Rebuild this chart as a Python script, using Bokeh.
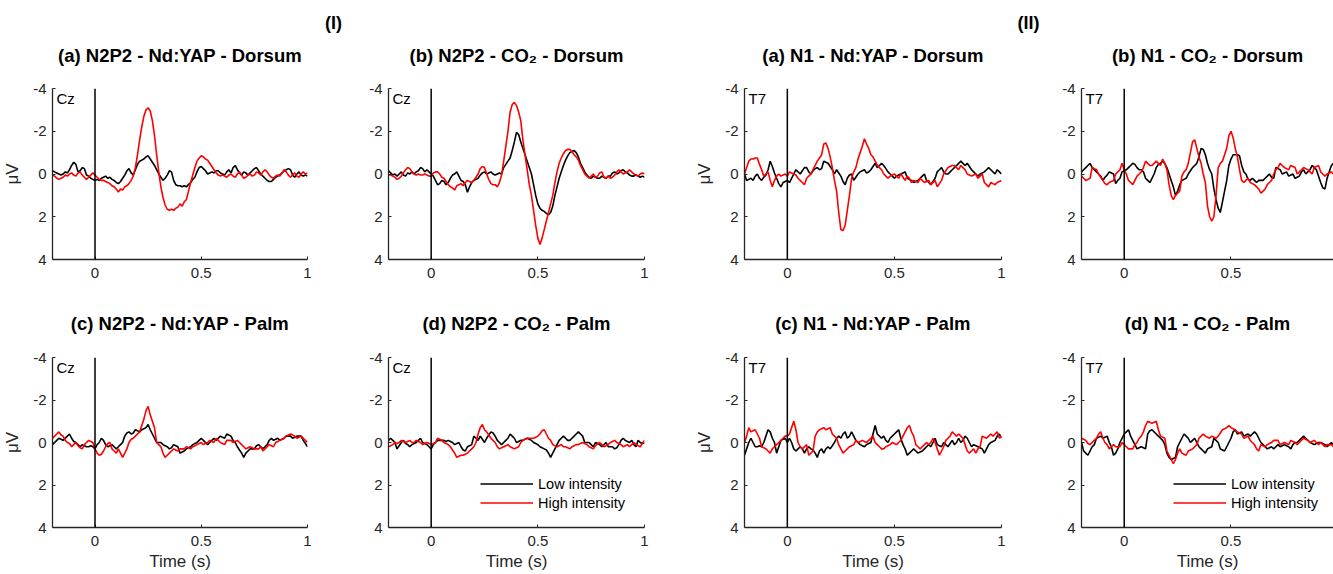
import numpy as np
from bokeh.plotting import figure
from bokeh.layouts import column, row
from bokeh.models import (Range1d, FixedTicker, CustomJSTickFormatter, Span, Label,
                          Legend, LegendItem)
from bokeh.embed import file_html
from bokeh.resources import INLINE

FONT = "Liberation Sans"
T_START = -0.2
T_STEP = 0.01

group_titles = ["(I)", "(II)"]
panel_titles = ["(a) N2P2 - Nd:YAP - Dorsum", "(b) N2P2 - CO\u2082 - Dorsum",
                "(a) N1 - Nd:YAP - Dorsum", "(b) N1 - CO\u2082 - Dorsum",
                "(c) N2P2 - Nd:YAP - Palm", "(d) N2P2 - CO\u2082 - Palm",
                "(c) N1 - Nd:YAP - Palm", "(d) N1 - CO\u2082 - Palm"]
electrodes = ["Cz", "Cz", "T7", "T7", "Cz", "Cz", "T7", "T7"]
series_names = ["Low intensity", "High intensity"]
x_ticks = [0, 0.5, 1]
y_ticks = [-4, -2, 0, 2, 4]

# amplitudes in microvolts, sampled every 10 ms from -0.2 s to 1.0 s
n2p2_ndyap_dorsum_low = [
    -0.15, -0.10, -0.05, 0.00, 0.05, 0.00, -0.10, -0.05, -0.20, -0.40,
    -0.55, -0.45, -0.10, -0.15, -0.30, -0.25, 0.05, 0.10, 0.20, 0.25,
    0.30, 0.25, 0.30, 0.20, 0.15, 0.10, 0.20, 0.15, 0.25, 0.30,
    0.40, 0.45, 0.35, 0.20, 0.05, -0.15, -0.25, -0.05, 0.05, -0.20,
    -0.45, -0.60, -0.65, -0.70, -0.80, -0.85, -0.70, -0.55, -0.40, -0.20,
    0.00, 0.15, 0.30, 0.20, 0.05, -0.15, -0.10, 0.30, 0.50, 0.55,
    0.55, 0.60, 0.55, 0.60, 0.50, 0.40, 0.25, 0.15, -0.10, -0.30,
    -0.35, -0.25, -0.15, 0.00, -0.05, -0.10, -0.05, -0.15, -0.15, -0.05,
    0.00, 0.05, -0.10, -0.20, -0.05, -0.30, -0.40, -0.20, -0.05, 0.05,
    -0.10, -0.05, 0.05, -0.05, -0.15, -0.25, -0.30, -0.15, 0.00, 0.10,
    0.20, 0.30, 0.35, 0.35, 0.25, 0.15, 0.10, 0.05, -0.05, -0.15,
    -0.20, -0.25, -0.20, 0.05, 0.15, 0.00, -0.10, 0.05, 0.10, 0.05,
    0.10]
n2p2_ndyap_dorsum_high = [
    0.05, 0.10, 0.20, 0.25, 0.20, 0.15, 0.05, 0.10, 0.00, -0.05,
    0.05, 0.10, -0.05, -0.10, 0.05, 0.15, 0.25, 0.15, 0.05, -0.05,
    0.05, 0.15, 0.25, 0.30, 0.30, 0.35, 0.40, 0.45, 0.55, 0.60,
    0.70, 0.85, 0.70, 0.75, 0.60, 0.55, 0.45, 0.30, 0.10, -0.30,
    -0.90, -1.60, -2.20, -2.70, -3.00, -3.10, -2.95, -2.50, -1.80, -0.90,
    -0.10, 0.60, 1.10, 1.45, 1.65, 1.70, 1.65, 1.70, 1.60, 1.55,
    1.40, 1.50, 1.30, 1.20, 0.80, 0.40, 0.05, -0.30, -0.60, -0.75,
    -0.85, -0.80, -0.70, -0.65, -0.50, -0.35, -0.20, -0.05, 0.05, 0.10,
    0.05, 0.10, 0.15, 0.05, 0.00, 0.10, 0.15, 0.00, -0.10, 0.05,
    0.20, 0.15, 0.05, 0.00, 0.10, 0.05, -0.10, -0.05, 0.05, -0.10,
    -0.20, -0.10, 0.05, 0.15, 0.20, 0.10, 0.05, 0.10, -0.05, -0.20,
    -0.10, 0.05, 0.15, 0.05, -0.05, 0.10, 0.15, 0.00, -0.10, 0.00,
    -0.05]
n2p2_co2_dorsum_low = [
    -0.15, -0.05, 0.05, 0.00, 0.10, 0.00, -0.10, 0.05, 0.10, -0.05,
    0.00, -0.10, 0.00, -0.10, -0.15, -0.30, -0.25, -0.10, -0.20, -0.10,
    0.00, 0.10, 0.30, 0.50, 0.45, 0.30, 0.35, 0.50, 0.40, 0.20,
    0.05, 0.00, -0.10, 0.10, 0.30, 0.35, 0.50, 0.85, 0.60, 0.40,
    0.30, 0.25, 0.20, 0.05, -0.05, -0.10, 0.00, -0.05, -0.10, 0.00,
    0.05, 0.00, -0.05, 0.00, -0.30, -0.45, -0.60, -0.75, -1.10, -1.50,
    -1.95, -1.85, -1.50, -1.20, -0.90, -0.60, -0.30, 0.00, 0.50, 1.00,
    1.40, 1.60, 1.70, 1.75, 1.85, 1.90, 1.80, 1.50, 1.00, 0.60,
    0.20, -0.10, -0.40, -0.65, -0.85, -1.00, -1.05, -1.10, -1.00, -0.80,
    -0.50, -0.30, -0.10, 0.05, 0.15, 0.20, 0.10, 0.15, 0.20, 0.20,
    0.10, 0.15, 0.20, 0.10, 0.10, -0.05, -0.10, 0.00, -0.05, -0.15,
    -0.20, -0.10, -0.05, 0.05, 0.10, 0.10, 0.05, 0.10, 0.15, 0.10,
    0.15]
n2p2_co2_dorsum_high = [
    0.05, 0.05, 0.10, 0.15, 0.25, 0.20, 0.10, -0.05, -0.20, -0.30,
    -0.25, -0.10, 0.00, 0.05, 0.00, 0.05, 0.05, 0.00, 0.05, 0.10,
    0.10, -0.05, -0.10, -0.10, 0.00, 0.15, 0.20, 0.35, 0.50, 0.60,
    0.65, 0.75, 0.55, 0.50, 0.45, 0.55, 0.40, 0.30, 0.35, 0.40,
    0.30, 0.15, 0.00, -0.25, -0.35, -0.30, 0.00, 0.25, 0.45, 0.50,
    0.50, 0.60, 0.40, 0.05, -0.60, -1.30, -2.00, -2.90, -3.25, -3.35,
    -3.20, -2.90, -2.50, -1.60, -0.90, -0.20, 0.50, 1.00, 1.70, 2.40,
    3.00, 3.30, 3.00, 2.60, 2.20, 1.80, 1.40, 1.00, 0.40, -0.10,
    -0.50, -0.75, -0.95, -1.10, -1.15, -1.15, -1.05, -0.90, -0.80, -0.65,
    -0.40, -0.20, 0.00, 0.10, 0.20, 0.10, 0.00, 0.15, 0.10, -0.05,
    -0.10, 0.15, 0.20, 0.10, 0.20, 0.15, 0.05, -0.10, -0.20, -0.10,
    0.00, -0.05, -0.10, -0.20, -0.10, 0.00, 0.05, 0.10, 0.00, -0.05,
    0.00]
n1_ndyap_dorsum_low = [
    0.00, 0.30, 0.25, 0.20, 0.30, 0.10, 0.00, 0.20, 0.30, 0.15,
    0.05, -0.20, -0.60, -0.35, -0.05, 0.20, 0.45, 0.60, 0.40, 0.35,
    0.30, 0.40, 0.20, 0.00, -0.20, -0.10, 0.00, -0.15, -0.30, -0.30,
    -0.10, 0.00, -0.15, -0.25, -0.30, -0.20, -0.25, -0.60, -0.55, -0.50,
    -0.35, -0.20, 0.00, -0.20, -0.05, 0.10, 0.35, 0.50, 0.20, 0.05,
    0.00, 0.30, 0.15, 0.00, -0.10, -0.15, -0.20, -0.05, -0.10, -0.20,
    -0.35, -0.50, -0.30, -0.40, -0.50, -0.40, -0.25, -0.10, 0.00, 0.10,
    0.20, 0.10, 0.05, 0.00, -0.05, -0.10, 0.20, 0.25, 0.30, 0.40,
    0.35, 0.30, 0.20, 0.10, 0.00, 0.30, 0.40, 0.50, 0.35, 0.20,
    -0.10, -0.20, -0.30, -0.10, 0.00, 0.00, -0.10, -0.20, -0.30, -0.40,
    -0.50, -0.60, -0.50, -0.40, -0.50, -0.35, -0.20, -0.10, 0.00, 0.10,
    0.00, -0.05, -0.10, -0.20, -0.30, -0.20, -0.10, 0.00, -0.20, -0.10,
    0.00]
n1_ndyap_dorsum_high = [
    0.00, -0.30, -0.60, -0.70, -0.70, -0.75, -0.75, -0.45, -0.20, 0.10,
    0.00, -0.10, 0.30, 0.60, 0.30, 0.10, 0.00, 0.10, 0.05, 0.00,
    0.10, -0.10, -0.05, 0.00, 0.05, 0.20, 0.30, 0.40, 0.50, 0.20,
    0.10, 0.00, -0.20, -0.40, -0.60, -0.75, -0.90, -1.40, -1.45, -1.20,
    -0.80, -0.30, 0.30, 0.80, 1.80, 2.60, 2.65, 2.40, 1.70, 1.00,
    0.20, -0.10, -0.30, -0.70, -1.00, -1.30, -1.65, -1.40, -1.20, -0.90,
    -0.80, -0.60, -0.40, -0.30, -0.20, 0.00, 0.10, 0.20, 0.10, 0.05,
    0.00, 0.10, 0.20, 0.00, 0.15, 0.30, 0.10, 0.20, 0.40, 0.30,
    0.35, 0.40, 0.20, 0.30, 0.40, 0.35, 0.30, 0.50, 0.40, 0.30,
    0.60, 0.45, 0.30, 0.00, -0.15, -0.30, -0.35, -0.40, -0.40, -0.30,
    -0.20, -0.40, -0.30, -0.20, 0.00, 0.05, 0.10, 0.05, 0.00, 0.20,
    0.10, 0.00, 0.40, 0.50, 0.60, 0.40, 0.45, 0.50, 0.40, 0.35,
    0.30]
n1_co2_dorsum_low = [
    -0.10, -0.20, -0.30, -0.40, -0.50, -0.30, -0.20, -0.10, 0.00, 0.10,
    0.30, 0.15, 0.05, -0.10, -0.05, 0.00, 0.45, 0.30, 0.20, -0.10,
    -0.15, -0.20, -0.30, -0.40, -0.50, -0.45, -0.30, -0.20, -0.20, -0.10,
    0.20, 0.30, 0.40, 0.20, 0.00, -0.30, -0.45, -0.50, -0.60, -0.50,
    -0.30, 0.00, 0.30, 0.60, 1.00, 0.80, 0.50, 0.30, 0.25, 0.20,
    0.00, -0.15, -0.30, -0.40, -0.50, -0.80, -1.20, -1.15, -0.90, -0.50,
    -0.20, 0.00, 0.70, 1.20, 1.60, 1.80, 1.30, 0.80, 0.30, -0.40,
    -0.70, -0.90, -0.90, -0.90, -0.85, -0.40, -0.10, 0.00, 0.25, 0.30,
    0.20, 0.30, 0.40, 0.30, 0.30, 0.30, 0.20, 0.10, 0.00, 0.15,
    0.20, -0.30, -0.25, -0.20, 0.00, -0.05, -0.10, 0.10, 0.05, 0.00,
    0.20, 0.15, 0.10, -0.10, -0.20, 0.00, -0.10, -0.20, -0.40, -0.30,
    -0.20, 0.10, 0.40, 0.65, 0.70, 0.20, -0.10, -0.40, -0.50, -0.45,
    -0.40]
n1_co2_dorsum_high = [
    0.10, 0.20, 0.30, 0.25, 0.20, -0.30, -0.25, -0.20, 0.00, 0.15,
    0.30, 0.45, 0.50, 0.40, 0.35, 0.30, 0.00, -0.10, -0.20, -0.50,
    -0.20, 0.00, 0.30, 0.40, 0.50, 0.30, 0.10, 0.00, -0.10, -0.30,
    -0.60, -0.50, -0.40, -0.40, -0.50, -0.60, -0.50, -0.40, -0.70, -0.50,
    -0.20, 0.50, 1.00, 1.20, 1.00, 0.90, 0.80, 0.10, -0.10, -0.20,
    -0.50, -1.00, -1.50, -1.60, -1.20, -0.80, -0.50, 0.00, 0.40, 1.50,
    2.00, 2.20, 2.00, 1.00, -0.30, -0.50, -0.60, -0.90, -1.20, -1.80,
    -2.00, -1.70, -1.20, -0.80, -0.20, 0.30, 0.40, 0.30, 0.20, 0.40,
    0.45, 0.50, 0.60, 0.70, 0.90, 0.80, 0.70, 0.50, 0.40, 0.30,
    0.00, -0.20, -0.30, -0.50, -0.40, -0.30, -0.25, -0.20, -0.40, -0.35,
    -0.30, 0.00, -0.10, -0.20, -0.30, -0.25, -0.20, -0.10, 0.00, -0.30,
    -0.35, -0.40, -0.10, 0.00, 0.10, 0.00, -0.05, -0.10, 0.00, 0.05,
    0.00]
n2p2_ndyap_palm_low = [
    0.10, 0.00, -0.10, -0.20, -0.15, -0.10, -0.20, -0.30, -0.40, -0.20,
    -0.05, 0.00, 0.10, 0.20, 0.10, 0.15, 0.20, 0.20, 0.15, 0.20,
    0.30, 0.10, 0.00, -0.20, -0.10, 0.10, 0.20, 0.15, 0.10, 0.20,
    0.30, 0.20, 0.10, 0.00, -0.30, -0.45, -0.50, -0.40, -0.45, -0.60,
    -0.55, -0.50, -0.60, -0.65, -0.70, -0.85, -0.60, -0.40, -0.20, 0.00,
    0.00, 0.00, 0.10, 0.15, 0.20, 0.30, 0.25, 0.10, 0.15, 0.20,
    0.50, 0.45, 0.40, 0.30, 0.25, 0.20, 0.10, 0.05, 0.00, -0.10,
    -0.20, -0.10, 0.00, 0.10, 0.00, -0.10, -0.20, -0.10, -0.20, -0.30,
    -0.25, -0.20, -0.40, -0.35, -0.30, -0.10, 0.00, 0.20, 0.35, 0.50,
    0.70, 0.50, 0.40, 0.30, 0.30, 0.30, 0.15, 0.10, 0.20, 0.30,
    0.20, 0.10, -0.10, -0.20, -0.10, -0.15, -0.20, -0.10, -0.15, -0.20,
    -0.30, -0.30, -0.30, -0.20, -0.25, -0.30, -0.30, -0.30, -0.10, 0.05,
    0.20]
n2p2_ndyap_palm_high = [
    -0.20, -0.30, -0.40, -0.50, -0.35, -0.30, -0.10, 0.00, 0.05, 0.20,
    0.10, 0.00, 0.15, 0.25, 0.30, 0.10, 0.00, -0.10, -0.05, 0.00,
    0.30, 0.50, 0.60, 0.55, 0.40, 0.20, 0.05, 0.00, 0.30, 0.40,
    0.50, 0.30, 0.50, 0.70, 0.50, 0.30, 0.00, -0.15, -0.20, -0.30,
    -0.40, -0.50, -0.80, -1.10, -1.50, -1.70, -1.30, -1.00, -0.70, 0.00,
    0.10, 0.20, 0.50, 0.70, 0.60, 0.50, 0.40, 0.30, 0.35, 0.40,
    0.30, 0.30, 0.30, 0.20, 0.25, 0.30, 0.20, 0.15, 0.10, 0.05,
    0.00, 0.10, 0.05, 0.00, -0.10, -0.05, 0.00, -0.20, -0.10, 0.00,
    0.05, 0.10, -0.10, -0.10, -0.10, 0.00, -0.05, -0.10, 0.00, 0.10,
    0.20, 0.30, 0.25, 0.20, 0.25, 0.30, 0.30, 0.30, 0.20, 0.40,
    0.30, 0.20, 0.10, 0.15, 0.20, 0.00, -0.05, -0.10, -0.15, -0.20,
    -0.30, -0.35, -0.40, -0.35, -0.30, -0.20, -0.25, -0.30, -0.20, -0.10,
    0.00]
n2p2_co2_palm_low = [
    -0.10, -0.20, -0.10, 0.00, 0.30, 0.15, 0.00, -0.10, 0.05, 0.10,
    0.20, 0.10, 0.05, 0.00, -0.10, -0.20, 0.00, 0.05, 0.10, 0.20,
    0.30, 0.10, 0.00, -0.10, -0.10, -0.10, -0.10, -0.05, -0.10, -0.05,
    0.00, 0.10, 0.05, 0.00, 0.20, 0.35, 0.40, 0.20, 0.15, 0.10,
    -0.30, -0.20, -0.10, -0.30, -0.15, 0.00, -0.20, -0.35, -0.50, -0.45,
    -0.30, -0.10, 0.00, 0.10, 0.00, -0.10, -0.20, -0.40, -0.30, -0.20,
    0.00, -0.05, -0.10, -0.10, -0.15, -0.20, -0.15, -0.10, 0.00, 0.05,
    0.10, 0.20, 0.25, 0.30, 0.35, 0.50, 0.70, 0.50, 0.30, 0.10,
    -0.10, -0.20, -0.30, -0.20, -0.10, -0.10, -0.20, -0.30, -0.40, -0.50,
    -0.40, -0.30, 0.00, 0.00, 0.00, 0.10, 0.20, 0.00, 0.05, 0.10,
    0.20, 0.10, 0.00, 0.20, 0.20, 0.20, 0.30, 0.25, 0.10, -0.10,
    -0.20, -0.10, -0.05, 0.00, -0.10, 0.10, 0.20, -0.10, 0.00, 0.05,
    0.00]
n2p2_co2_palm_high = [
    0.20, 0.15, 0.10, 0.00, 0.05, 0.00, -0.10, -0.05, 0.00, -0.05,
    -0.10, 0.00, 0.00, -0.10, -0.05, 0.00, 0.10, 0.05, 0.00, 0.05,
    0.10, 0.05, 0.00, -0.20, -0.15, -0.10, 0.00, 0.05, 0.10, 0.20,
    0.35, 0.50, 0.70, 0.65, 0.60, 0.60, 0.55, 0.50, 0.40, 0.30,
    0.20, 0.00, -0.40, -0.70, -0.85, -0.60, -0.50, -0.35, -0.20, -0.10,
    0.00, 0.20, 0.30, 0.25, 0.20, 0.15, 0.10, 0.20, 0.25, 0.30,
    0.25, 0.20, 0.00, -0.10, -0.15, -0.20, -0.20, -0.20, -0.20, -0.25,
    -0.30, -0.40, -0.55, -0.60, -0.40, -0.20, -0.10, 0.10, 0.15, 0.20,
    0.15, 0.10, 0.20, 0.20, 0.25, 0.30, 0.20, 0.15, 0.10, 0.10,
    0.05, 0.00, 0.05, 0.10, 0.20, 0.25, 0.30, 0.15, 0.05, 0.00,
    0.10, 0.20, 0.15, 0.10, 0.00, -0.05, -0.10, 0.00, 0.05, 0.10,
    0.20, 0.15, 0.10, 0.20, 0.10, 0.00, 0.10, 0.15, 0.20, 0.05,
    -0.10]
n1_ndyap_palm_low = [
    0.60, 0.30, 0.00, -0.20, 0.00, 0.20, 0.20, 0.15, 0.20, 0.00,
    -0.30, -0.60, -0.50, -0.20, 0.00, 0.50, 0.20, -0.10, -0.15, -0.20,
    0.00, -0.20, 0.00, 0.30, 0.40, 0.30, 0.20, 0.30, 0.50, 0.30,
    0.20, 0.30, 0.35, 0.50, 0.70, 0.40, 0.30, 0.50, 0.30, 0.20,
    0.30, 0.15, 0.00, -0.20, -0.30, -0.20, -0.40, -0.50, -0.20, -0.30,
    -0.50, -0.30, -0.10, 0.00, 0.10, 0.15, 0.20, 0.10, 0.05, 0.00,
    -0.40, -0.80, -0.40, -0.30, -0.20, -0.30, -0.10, 0.00, -0.20, -0.30,
    -0.40, -0.50, -0.60, -0.20, 0.10, 0.30, 0.60, 0.50, 0.40, 0.30,
    0.40, 0.50, 0.45, 0.40, 0.30, 0.20, 0.10, 0.20, 0.00, -0.20,
    0.10, 0.15, 0.20, 0.00, 0.10, 0.20, 0.05, -0.10, 0.10, 0.00,
    -0.20, 0.00, -0.10, -0.30, -0.20, 0.00, 0.20, 0.10, 0.15, 0.20,
    0.25, 0.30, 0.50, 0.30, 0.10, 0.00, -0.05, -0.10, -0.30, -0.40,
    -0.20]
n1_ndyap_palm_high = [
    0.00, -0.30, -0.70, -0.50, -0.55, -0.60, -0.40, -0.20, 0.20, 0.25,
    0.30, 0.40, 0.50, 0.30, 0.20, 0.10, 0.00, -0.10, -0.20, -0.30,
    -0.30, -0.40, -0.70, -1.00, -0.60, 0.00, 0.20, 0.30, 0.20, 0.10,
    0.60, 0.50, 0.40, -0.30, -0.50, -0.60, -0.65, -0.70, -0.60, -0.65,
    -0.70, -0.40, -0.30, -0.20, 0.10, 0.30, 0.50, 0.40, 0.30, 0.20,
    0.15, 0.10, -0.10, 0.00, -0.05, -0.10, -0.05, 0.00, -0.10, -0.20,
    -0.30, 0.00, 0.10, 0.20, 0.30, 0.30, 0.20, 0.15, 0.10, 0.00,
    0.05, 0.10, 0.00, -0.10, -0.30, -0.50, -0.70, -0.80, -0.50, -0.30,
    0.10, 0.20, 0.30, 0.20, 0.10, 0.00, 0.10, 0.00, -0.20, 0.00,
    0.30, 0.60, 0.40, 0.20, -0.10, -0.20, -0.30, -0.50, -0.40, -0.30,
    -0.40, -0.30, -0.20, 0.10, 0.40, 0.50, 0.40, 0.30, 0.50, 0.30,
    0.20, -0.30, -0.25, -0.20, -0.30, -0.40, -0.30, -0.40, -0.50, -0.20,
    -0.30]
n1_co2_palm_low = [
    0.00, 0.40, 0.50, 0.60, 0.40, 0.20, 0.10, -0.20, -0.25, -0.30,
    -0.20, -0.25, -0.30, 0.00, 0.20, 0.60, 0.50, 0.30, 0.00, -0.20,
    -0.40, -0.50, -0.60, -0.30, -0.10, 0.10, 0.30, 0.25, 0.20, 0.25,
    0.30, -0.40, -0.55, -0.60, -0.50, -0.40, -0.30, -0.20, -0.10, 0.10,
    0.50, 0.70, 0.80, 0.75, 0.70, 0.20, 0.00, -0.20, -0.40, -0.30,
    -0.20, 0.00, -0.10, -0.20, 0.00, 0.20, 0.30, 0.40, 0.50, 0.30,
    0.25, 0.20, -0.20, -0.10, 0.00, 0.30, 0.35, 0.40, 0.20, 0.00,
    -0.20, -0.50, -0.60, -0.40, -0.45, -0.50, -0.30, -0.35, -0.40, -0.30,
    -0.40, -0.50, -0.40, -0.20, 0.00, 0.10, 0.20, 0.30, 0.25, 0.20,
    0.30, 0.20, 0.10, 0.20, 0.15, 0.10, 0.15, 0.20, 0.30, 0.10,
    0.00, 0.00, -0.10, -0.20, -0.30, -0.20, -0.10, 0.00, 0.05, 0.10,
    0.05, 0.00, 0.00, 0.05, 0.10, 0.20, 0.10, 0.00, 0.10, 0.10,
    0.10]
n1_co2_palm_high = [
    -0.20, -0.15, -0.10, 0.05, 0.10, 0.00, -0.10, -0.20, -0.40, -0.50,
    -0.20, 0.00, 0.10, 0.30, 0.20, 0.10, 0.20, 0.20, 0.20, 0.00,
    0.10, 0.20, 0.30, 0.30, 0.30, 0.10, 0.00, -0.20, -0.30, -0.50,
    -0.80, -1.00, -0.95, -0.90, -0.95, -1.00, -0.60, -0.30, -0.25, -0.20,
    0.40, 0.60, 0.80, 1.00, 0.80, 0.50, 0.30, 0.50, 0.55, 0.60,
    0.40, 0.35, 0.30, 0.20, 0.10, -0.20, -0.30, -0.40, -0.30, -0.25,
    -0.20, -0.30, -0.25, -0.20, -0.30, -0.45, -0.60, -0.65, -0.70, -0.80,
    -0.70, -0.65, -0.60, -0.50, -0.45, -0.40, -0.20, -0.25, -0.30, -0.10,
    0.00, 0.10, 0.30, 0.40, 0.10, 0.15, 0.20, 0.10, 0.05, 0.00,
    -0.10, -0.10, -0.10, 0.10, 0.05, 0.00, 0.05, 0.10, -0.10, -0.05,
    0.00, 0.10, 0.00, -0.10, -0.20, -0.15, -0.10, 0.00, -0.05, -0.10,
    0.00, 0.10, 0.00, 0.10, 0.20, 0.10, 0.10, 0.10, 0.20, 0.15,
    0.10]

low_series = [n2p2_ndyap_dorsum_low, n2p2_co2_dorsum_low, n1_ndyap_dorsum_low, n1_co2_dorsum_low,
              n2p2_ndyap_palm_low, n2p2_co2_palm_low, n1_ndyap_palm_low, n1_co2_palm_low]
high_series = [n2p2_ndyap_dorsum_high, n2p2_co2_dorsum_high, n1_ndyap_dorsum_high, n1_co2_dorsum_high,
               n2p2_ndyap_palm_high, n2p2_co2_palm_high, n1_ndyap_palm_high, n1_co2_palm_high]


def times(vals):
    return [round(T_START + T_STEP * i, 2) for i in range(len(vals))]


AX = "#262626"
W = 1333
fmt = CustomJSTickFormatter(code="return String(tick);")

# geometry per column: (frame_width, border_left, border_right, x_end)
cols = [(255, 52, 23, 1.0), (256, 58, 36, 1.0), (257, 64, 29, 1.0), (252, 51, 0, 0.98)]
# geometry per row: (frame_height, border_top, border_bottom, has x label)
rows_geo = [(171, 13, 31, False), (170, 13, 47, True)]

# horizontal centre of each column's frame, from the geometry above
frame_centres = []
_x = 0
for fw, bl, br, _ in cols:
    frame_centres.append(_x + bl + fw / 2)
    _x += bl + fw + br


def make_panel(idx):
    r, c = divmod(idx, 4)
    fw, bl, br, xend = cols[c]
    fh, bt, bb, bottom_row = rows_geo[r]
    p = figure(frame_width=fw, frame_height=fh, min_border_left=bl, min_border_right=br,
               min_border_top=bt, min_border_bottom=bb,
               x_range=Range1d(-0.2, xend), y_range=Range1d(4, -4),
               output_backend="svg", toolbar_location=None)
    p.xgrid.visible = False
    p.ygrid.visible = False
    p.outline_line_color = None
    p.background_fill_color = "white"
    p.border_fill_color = "white"
    for ax in (p.xaxis[0], p.yaxis[0]):
        ax.axis_line_color = AX
        ax.axis_line_width = 1.3
        ax.major_tick_line_color = AX
        ax.major_tick_in = 3
        ax.major_tick_out = 0
        ax.minor_tick_line_color = None
        ax.major_label_text_font = FONT
        ax.major_label_text_font_size = "15px"
        ax.major_label_text_color = AX
        ax.axis_label_text_font = FONT
        ax.axis_label_text_font_size = "17px"
        ax.axis_label_text_font_style = "normal"
        ax.axis_label_text_color = AX
        ax.formatter = fmt
    p.xaxis[0].ticker = FixedTicker(ticks=x_ticks)
    p.yaxis[0].ticker = FixedTicker(ticks=y_ticks)
    p.xaxis[0].major_label_standoff = 8
    p.yaxis[0].major_label_standoff = 6
    if bottom_row:
        p.xaxis[0].axis_label = "Time (s)"
        p.xaxis[0].axis_label_standoff = 3
    if c in (0, 2):
        p.yaxis[0].axis_label = "\u03bcV"
        p.yaxis[0].axis_label_standoff = 8

    low = low_series[idx]
    high = high_series[idx]
    p.add_layout(Span(location=0, dimension="height", line_color="black", line_width=1.5))
    rl = p.line(times(low), low, line_color="black", line_width=1.6)
    rh = p.line(times(high), high, line_color="red", line_width=1.6)
    p.add_layout(Label(x=-0.2, y=-4, x_offset=4, y_offset=-1, text=electrodes[idx],
                       text_baseline="top", text_font=FONT, text_font_size="15px",
                       text_color="black"))
    if idx in (5, 7):
        leg = Legend(items=[LegendItem(label=series_names[0], renderers=[rl]),
                            LegendItem(label=series_names[1], renderers=[rh])],
                     location=(92, 15), border_line_color=None, background_fill_alpha=0,
                     padding=0, margin=0, spacing=0, glyph_width=53, glyph_height=19,
                     label_height=19, label_standoff=5, label_text_font=FONT,
                     label_text_font_size="14.5px", label_text_color="black")
        p.add_layout(leg)
    return p


def text_strip(height):
    s = figure(width=W, height=height, x_range=Range1d(0, W), y_range=Range1d(height, 0),
               output_backend="svg", toolbar_location=None,
               x_axis_location=None, y_axis_location=None, min_border=0)
    s.xgrid.visible = False
    s.ygrid.visible = False
    s.outline_line_color = None
    return s


def add_title(strip, x, y, text, size):
    strip.add_layout(Label(x=x, y=y, text=text, text_align="center", text_baseline="middle",
                           text_font=FONT, text_font_size=size, text_font_style="bold",
                           text_color="black"))


# strip above the top row: group titles and the top-row panel titles
top_strip = text_strip(75)
for gx, gt in zip([333, 1028], group_titles):
    add_title(top_strip, gx, 22, gt, "18px")
for c in range(4):
    add_title(top_strip, frame_centres[c], 55, panel_titles[c], "18.5px")

# strip between the rows: bottom-row panel titles
mid_strip = text_strip(54)
for c in range(4):
    add_title(mid_strip, frame_centres[c], 33, panel_titles[4 + c], "18.5px")

panels = [make_panel(i) for i in range(8)]
layout = column(top_strip, row(*panels[:4]), mid_strip, row(*panels[4:]))

open("out.html", "w").write(file_html(layout, INLINE))
